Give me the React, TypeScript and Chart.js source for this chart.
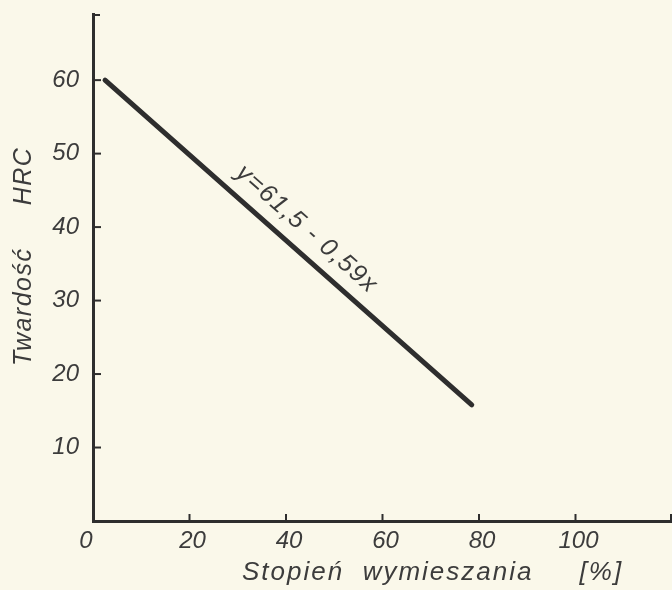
import React, { useEffect, useRef } from "react";
import { Chart, registerables } from "chart.js";

Chart.register(...registerables);

// Data
const lineX = [2.5, 78.5];
const lineY = [60, 15.8];
const xTickValues = [0, 20, 40, 60, 80, 100, 120];
const xTickLabels = ["0   ", "20", "40", "60", "80", "100", ""];
const yTickValues = [0, 10, 20, 30, 40, 50, 60];
const yTickLabels = ["", "10", "20", "30", "40", "50", "60"];
const xTitle = "Stopień  wymieszania     [%]";
const yTitle = "Twardość     HRC";
const equationText = "y=61,5 - 0,59x";

const BG = "#faf8ea";
const INK = "#2e2e2e";
const TEXT = "#3c3c3c";
const FONT = "'Liberation Sans', Arial, sans-serif";

const decorPlugin = {
  id: "decor",
  beforeDraw(chart: any) {
    const { ctx, width, height } = chart;
    ctx.save();
    ctx.fillStyle = BG;
    ctx.fillRect(0, 0, width, height);
    ctx.restore();
  },
  afterDatasetsDraw(chart: any) {
    const { ctx, chartArea } = chart;
    const xs = chart.scales.x;
    const ys = chart.scales.y;
    ctx.save();
    ctx.strokeStyle = INK;
    ctx.lineWidth = 2;
    // inner ticks on x axis
    xTickValues.forEach((v) => {
      if (v === 0) return;
      const px = Math.min(xs.getPixelForValue(v), chartArea.right - 1);
      ctx.beginPath();
      ctx.moveTo(px, chartArea.bottom);
      ctx.lineTo(px, chartArea.bottom - 7);
      ctx.stroke();
    });
    // inner ticks on y axis
    yTickValues.forEach((v) => {
      if (v === 0) return;
      const py = ys.getPixelForValue(v);
      ctx.beginPath();
      ctx.moveTo(chartArea.left, py);
      ctx.lineTo(chartArea.left + 8, py);
      ctx.stroke();
    });
    // top tick
    ctx.beginPath();
    ctx.moveTo(chartArea.left, chartArea.top + 1);
    ctx.lineTo(chartArea.left + 7, chartArea.top + 1);
    ctx.stroke();

    // axis titles
    ctx.fillStyle = TEXT;
    ctx.font = `italic 26px ${FONT}`;
    (ctx as any).letterSpacing = "2px";
    ctx.textAlign = "left";
    ctx.textBaseline = "alphabetic";
    ctx.fillText(xTitle, 242, 580);

    ctx.font = `italic 25px ${FONT}`;
    (ctx as any).letterSpacing = "1.5px";
    ctx.save();
    ctx.translate(31, 366);
    ctx.rotate(-Math.PI / 2);
    ctx.fillText(yTitle, 0, 0);
    ctx.restore();

    // equation along the line
    const x0 = xs.getPixelForValue(lineX[0]);
    const y0 = ys.getPixelForValue(lineY[0]);
    const x1 = xs.getPixelForValue(lineX[1]);
    const y1 = ys.getPixelForValue(lineY[1]);
    const a = Math.atan2(y1 - y0, x1 - x0);
    const t = 0.51;
    const off = 22;
    const cx = x0 + t * (x1 - x0) + off * Math.sin(a);
    const cy = y0 + t * (y1 - y0) - off * Math.cos(a);
    ctx.save();
    ctx.translate(cx, cy);
    ctx.rotate(a);
    ctx.textAlign = "center";
    ctx.textBaseline = "middle";
    ctx.fillText(equationText, 0, 0);
    ctx.restore();
    ctx.restore();
  },
};

export default function App() {
  const ref = useRef<HTMLCanvasElement | null>(null);
  useEffect(() => {
    document.body.style.margin = "0";
    document.body.style.background = BG;
    const canvas = ref.current!;
    const chart = new Chart(canvas, {
      type: "scatter",
      data: {
        datasets: [
          {
            data: lineX.map((x, i) => ({ x, y: lineY[i] })),
            showLine: true,
            borderColor: INK,
            borderWidth: 5,
            borderCapStyle: "round",
            pointRadius: 0,
            pointHoverRadius: 0,
          } as any,
        ],
      },
      options: {
        animation: false,
        responsive: false,
        maintainAspectRatio: false,
        layout: { padding: { top: 14, right: 0, left: 0, bottom: 0 } },
        plugins: { legend: { display: false }, tooltip: { enabled: false } },
        scales: {
          x: {
            type: "linear",
            min: 0,
            max: 120,
            afterBuildTicks: (s: any) => {
              s.ticks = xTickValues.map((v) => ({ value: v }));
            },
            afterFit: (s: any) => {
              s.height = 69;
              s.paddingLeft = 0;
              s.paddingRight = 0;
            },
            ticks: {
              callback: (_v: any, i: number) => xTickLabels[i],
              color: TEXT,
              font: { family: FONT, size: 24, style: "italic" },
              padding: 6,
              maxRotation: 0,
              labelOffset: 3,
            },
            grid: { display: false, drawTicks: false },
            border: { color: INK, width: 3 },
          },
          y: {
            type: "linear",
            min: 0,
            max: 69,
            afterBuildTicks: (s: any) => {
              s.ticks = yTickValues.map((v) => ({ value: v }));
            },
            afterFit: (s: any) => {
              s.width = 93;
              s.paddingTop = 0;
              s.paddingBottom = 0;
            },
            ticks: {
              callback: (_v: any, i: number) => yTickLabels[i],
              color: TEXT,
              font: { family: FONT, size: 24, style: "italic" },
              padding: 14,
            },
            grid: { display: false, drawTicks: false },
            border: { color: INK, width: 3 },
          },
        },
      },
      plugins: [decorPlugin],
    });
    return () => chart.destroy();
  }, []);
  return <canvas ref={ref} width={672} height={590} style={{ display: "block" }} />;
}
